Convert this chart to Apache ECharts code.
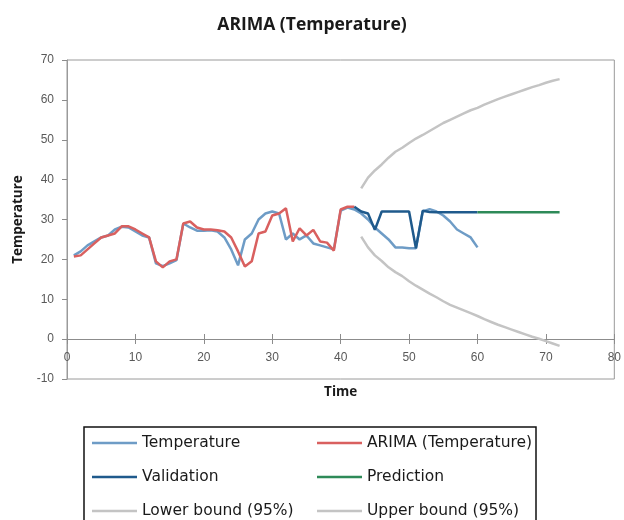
<!DOCTYPE html>
<html>
<head>
<meta charset="utf-8">
<script src="https://cdn.jsdelivr.net/npm/echarts@6/dist/echarts.min.js"></script>
<style>html,body{margin:0;padding:0;background:#fff}#c{width:624px;height:520px}</style>
</head>
<body>
<div id="c"></div>
<script>
// ---- data ----
var xTicks = [0, 10, 20, 30, 40, 50, 60, 70, 80];
var yTicks = [-10, 0, 10, 20, 30, 40, 50, 60, 70];

var tempStart = 1;
var temperature = [21, 22, 23.5, 24.5, 25.5, 26, 27.5, 28.2, 28, 27,
  26, 25.5, 19, 18.3, 19, 19.8, 29, 28, 27.2, 27.2,
  27.3, 27, 25.5, 22.5, 18.5, 25, 26.5, 30, 31.5, 32,
  31.5, 25, 26.5, 25, 26, 24, 23.5, 23, 22.5, 32.2,
  33, 32.5, 31.5, 30, 28, 26.5, 25, 23, 23, 22.8,
  22.8, 32, 32.6, 32, 31, 29.5, 27.5, 26.5, 25.5, 23];

var arimaStart = 1;
var arima = [20.7, 21, 22.5, 24, 25.5, 26, 26.5, 28.3, 28.3, 27.5,
  26.5, 25.5, 19.5, 18, 19.5, 20, 29, 29.5, 28, 27.5,
  27.5, 27.3, 27, 25.5, 22, 18.2, 19.5, 26.5, 27, 31,
  31.5, 32.8, 24.5, 27.8, 26, 27.4, 24.5, 24.2, 22.2, 32.5,
  33.2, 33.2];

var validationStart = 42;
var validation = [33.2, 32, 31.5, 27.4, 32, 32, 32, 32, 32, 22.8,
  32.2, 31.9, 31.8, 31.8, 31.8, 31.8, 31.8, 31.8, 31.8];

var predictionStart = 60;
var prediction = [31.8, 31.8, 31.8, 31.8, 31.8, 31.8, 31.8, 31.8, 31.8, 31.8, 31.8, 31.8, 31.8];

var boundStart = 43;
var lowerBound = [25.7, 23, 21, 19.6, 18, 16.8, 15.8, 14.5, 13.4, 12.4,
  11.4, 10.5, 9.5, 8.6, 7.9, 7.2, 6.5, 5.8, 5, 4.3,
  3.6, 3, 2.4, 1.8, 1.2, 0.6, 0.1, -0.5, -1.1, -1.7];
var upperBound = [37.8, 40.5, 42.3, 43.8, 45.5, 47, 48, 49.2, 50.3, 51.2,
  52.2, 53.2, 54.2, 55, 55.8, 56.6, 57.4, 58, 58.8, 59.5,
  60.2, 60.8, 61.4, 62, 62.6, 63.2, 63.7, 64.3, 64.8, 65.2];

var seriesNames = ['Temperature', 'ARIMA (Temperature)', 'Validation', 'Prediction', 'Lower bound (95%)', 'Upper bound (95%)'];
var seriesColors = ['#6e9cc6', '#d9605f', '#1f5a8c', '#2e8a58', '#c4c4c4', '#c4c4c4'];

function pairs(start, arr) {
  return arr.map(function (v, i) { return [start + i, v]; });
}

var seriesData = [
  pairs(tempStart, temperature),
  pairs(arimaStart, arima),
  pairs(validationStart, validation),
  pairs(predictionStart, prediction),
  pairs(boundStart, lowerBound),
  pairs(boundStart, upperBound)
];

var FONT = 'Liberation Sans';
var LEGFONT = 'DejaVu Sans';

var chart = echarts.init(document.getElementById('c'), null, { renderer: 'canvas' });

var series = seriesData.map(function (d, i) {
  return {
    name: seriesNames[i],
    type: 'line',
    data: d,
    symbol: 'none',
    showSymbol: false,
    xAxisIndex: 0,
    yAxisIndex: 0,
    lineStyle: { width: 2.5, color: seriesColors[i] },
    itemStyle: { color: seriesColors[i] },
    z: 2 + i
  };
});

var legendCommon = {
  orient: 'vertical',
  top: 434,
  height: 120,
  itemWidth: 45,
  itemHeight: 2.5,
  itemGap: 16,
  itemTextGap: 6,
  icon: 'rect',
  textStyle: { fontFamily: LEGFONT, fontSize: 15.5, color: '#1a1a1a', lineHeight: 18 },
  padding: 0,
  selectedMode: false
};

// offset moves the bottom axis up onto the y = 0 line (grid height 319 px over 80 units)
var zeroOffset = -40;

var option = {
  animation: false,
  backgroundColor: '#ffffff',
  title: {
    text: 'ARIMA (Temperature)',
    left: 'center',
    top: 11,
    textStyle: { fontFamily: 'Open Sans', fontWeight: 'bold', fontSize: 17.5, color: '#1a1a1a' }
  },
  legend: [
    Object.assign({}, legendCommon, { left: 92, data: [seriesNames[0], seriesNames[2], seriesNames[4]] }),
    Object.assign({}, legendCommon, { left: 317, data: [seriesNames[1], seriesNames[3], seriesNames[5]] })
  ],
  grid: {
    left: 67, top: 60, right: 8, bottom: 141,
    show: true, borderColor: '#9a9a9a', borderWidth: 1, backgroundColor: 'transparent'
  },
  xAxis: [{
    type: 'value',
    position: 'bottom',
    offset: zeroOffset,
    min: xTicks[0], max: xTicks[xTicks.length - 1], interval: 10,
    name: 'Time',
    nameLocation: 'middle',
    nameGap: 46,
    nameTextStyle: { fontFamily: 'Open Sans', fontWeight: 'bold', fontSize: 13.5, color: '#1a1a1a' },
    axisLine: { show: true, onZero: false, lineStyle: { color: '#8c8c8c', width: 1 } },
    axisTick: { show: true, inside: false, length: 5, lineStyle: { color: '#8c8c8c' } },
    axisLabel: { fontFamily: FONT, fontSize: 12, color: '#595959', margin: 13 },
    splitLine: { show: false }
  }, {
    type: 'value',
    position: 'bottom',
    offset: zeroOffset,
    min: xTicks[0], max: xTicks[xTicks.length - 1], interval: 10,
    axisLine: { show: false, onZero: false },
    axisTick: { show: true, inside: true, length: 5, lineStyle: { color: '#8c8c8c' } },
    axisLabel: { show: false },
    splitLine: { show: false }
  }],
  yAxis: {
    type: 'value',
    min: yTicks[0], max: yTicks[yTicks.length - 1], interval: 10,
    name: 'Temperature',
    nameLocation: 'middle',
    nameGap: 42,
    nameRotate: 90,
    nameTextStyle: { fontFamily: 'Open Sans', fontWeight: 'bold', fontSize: 13.5, color: '#1a1a1a' },
    axisLine: { show: true, onZero: false, lineStyle: { color: '#9a9a9a', width: 1 } },
    axisTick: { show: true, inside: false, length: 5, lineStyle: { color: '#8c8c8c' } },
    axisLabel: { fontFamily: FONT, fontSize: 12, color: '#595959', margin: 13 },
    splitLine: { show: false }
  },
  graphic: [{
    type: 'rect',
    shape: { x: 84, y: 427, width: 452, height: 110 },
    style: { fill: 'none', stroke: '#111', lineWidth: 1.5 },
    silent: true
  }],
  series: series
};

chart.setOption(option);
</script>
</body>
</html>
